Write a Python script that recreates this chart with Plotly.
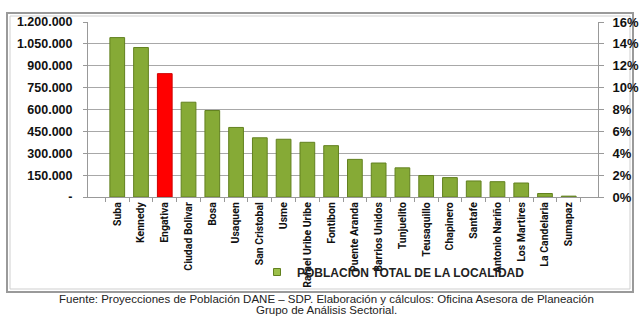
import plotly.graph_objects as go

localidades = ["Suba", "Kennedy", "Engativa", "Ciudad Bolivar", "Bosa", "Usaquen",
               "San Cristobal", "Usme", "Rafael Uribe Uribe", "Fontibon", "Puente Aranda",
               "Barrios Unidos", "Tunjuelito", "Teusaquillo", "Chapinero", "Santafe",
               "Antonio Nariño", "Los Martires", "La Candelaria", "Sumapaz"]
poblacion = [1093000, 1025000, 846000, 650000, 593000, 477000,
             406000, 396000, 375000, 352000, 258000,
             233000, 200000, 147000, 133000, 110000,
             105000, 96000, 24000, 6000]
highlight = "Engativa"
serie = "POBLACION TOTAL DE LA LOCALIDAD"

left_tickvals = [0, 150000, 300000, 450000, 600000, 750000, 900000, 1050000, 1200000]
left_ticktext = ["-", "150.000", "300.000", "450.000", "600.000", "750.000", "900.000",
                 "1.050.000", "1.200.000"]
right_tickvals = [0, 0.02, 0.04, 0.06, 0.08, 0.10, 0.12, 0.14, 0.16]
right_ticktext = ["0%", "2%", "4%", "6%", "8%", "10%", "12%", "14%", "16%"]

total = 7500000
share = [p / total for p in poblacion]

GREEN = "#86aa36"
GREEN_EDGE = "#62811f"
RED = "#ff0000"
colors = [RED if n == highlight else GREEN for n in localidades]
edges = ["#d00000" if n == highlight else GREEN_EDGE for n in localidades]

FONT = "Arial, Liberation Sans, sans-serif"
NARROW = "Roboto, Arial, sans-serif"

fig = go.Figure()
fig.add_trace(go.Bar(
    x=localidades, y=poblacion, name=serie,
    marker=dict(color=colors, line=dict(color=edges, width=1)),
    width=0.62, showlegend=False,
))
fig.add_trace(go.Scatter(
    x=localidades, y=share, yaxis="y2", mode="markers",
    marker=dict(opacity=0), showlegend=False, hoverinfo="skip",
))
# legend entry with a small square swatch
fig.add_trace(go.Scatter(
    x=[None], y=[None], mode="markers", name=serie,
    marker=dict(symbol="square", size=7, color="#9cc04a",
                line=dict(color=GREEN_EDGE, width=1)),
    showlegend=True,
))

W, H = 639, 316
L, R, T, B = 88, 41, 22, 119
pw, ph = W - L - R, H - T - B

def px_x(x):
    return (x - L) / pw

def px_y(y):
    return (H - B - y) / ph

fig.update_layout(
    width=W, height=H,
    margin=dict(l=L, r=R, t=T, b=B, pad=0, autoexpand=False),
    paper_bgcolor="white", plot_bgcolor="white",
    font=dict(family=FONT, size=11, color="#111"),
    xaxis=dict(
        type="category", tickangle=-90, automargin=False,
        tickfont=dict(family=NARROW, size=10.5, color="#111", weight="bold"),
        showgrid=False, showline=True, linecolor="#999", linewidth=1,
        ticks="outside", ticklen=4, tickcolor="#999", tickson="boundaries",
    ),
    yaxis=dict(
        range=[0, 1200000], tickvals=left_tickvals, ticktext=left_ticktext,
        automargin=False,
        tickfont=dict(family=FONT, size=12.5, color="#111", weight="bold"),
        showgrid=True, gridcolor="#a8a8a8", gridwidth=1,
        showline=True, linecolor="#999", linewidth=1,
        ticks="outside", ticklen=4, tickcolor="#999", zeroline=False,
        ticklabelstandoff=8,
    ),
    yaxis2=dict(
        range=[0, 0.16], tickvals=right_tickvals, ticktext=right_ticktext,
        overlaying="y", side="right", automargin=False,
        tickfont=dict(family=FONT, size=13, color="#111", weight="bold"),
        showgrid=False, showline=True, linecolor="#999", linewidth=1,
        ticks="outside", ticklen=5, tickcolor="#999", zeroline=False,
        ticklabelstandoff=6,
    ),
    legend=dict(
        x=px_x(257), y=px_y(272), xanchor="left", yanchor="middle",
        orientation="h", itemwidth=30,
        font=dict(family=FONT, size=12, color="#222", weight="bold"),
        bgcolor="rgba(0,0,0,0)",
    ),
    shapes=[
        dict(type="rect", xref="paper", yref="paper",
             x0=px_x(7), x1=px_x(633), y0=px_y(292), y1=px_y(13),
             line=dict(color="#9a9a9a", width=2), layer="below"),
        dict(type="rect", xref="paper", yref="paper",
             x0=px_x(10), x1=px_x(630), y0=px_y(289), y1=px_y(16),
             line=dict(color="#cfcfcf", width=1), layer="below"),
    ],
    annotations=[
        dict(text="Fuente: Proyecciones de Población DANE – SDP. Elaboración y cálculos: Oficina Asesora de Planeación",
             xref="paper", yref="paper", x=px_x(326), y=px_y(298.5),
             xanchor="center", yanchor="middle", showarrow=False,
             font=dict(family=FONT, size=11.5, color="#222")),
        dict(text="Grupo de Análisis Sectorial.",
             xref="paper", yref="paper", x=px_x(326), y=px_y(310),
             xanchor="center", yanchor="middle", showarrow=False,
             font=dict(family=FONT, size=11.5, color="#222")),
    ],
)

fig.write_html("out.html", config={"displayModeBar": False},
               post_script="document.body.style.margin='0';document.body.style.overflow='hidden';")
